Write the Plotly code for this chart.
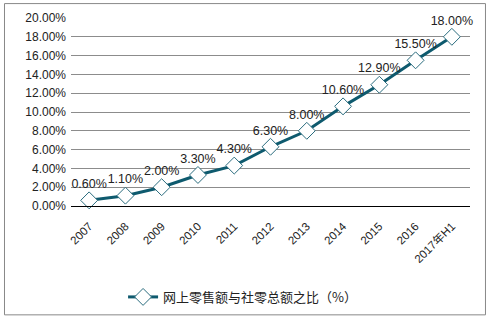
import plotly.graph_objects as go

categories = ["2007", "2008", "2009", "2010", "2011", "2012", "2013", "2014", "2015", "2016", "2017年H1"]
values = [0.006, 0.011, 0.020, 0.033, 0.043, 0.063, 0.080, 0.106, 0.129, 0.155, 0.180]
labels = ["0.60%", "1.10%", "2.00%", "3.30%", "4.30%", "6.30%", "8.00%", "10.60%", "12.90%", "15.50%", "18.00%"]
series_name = "网上零售额与社零总额之比（%）"

font_family = "Liberation Sans, Arial, Noto Sans CJK SC, sans-serif"

fig = go.Figure()
fig.add_trace(go.Scatter(
    x=categories, y=values, mode="lines+markers+text",
    name=series_name,
    text=labels, textposition="top center",
    textfont=dict(size=12.5, color="#222222", family=font_family),
    line=dict(color="#0e5a6e", width=3),
    marker=dict(symbol="diamond", size=13, color="white",
                line=dict(color="#2a6c7e", width=1)),
    cliponaxis=False,
))

fig.update_layout(
    width=493, height=322,
    margin=dict(l=71, r=23, t=18, b=115),
    paper_bgcolor="white", plot_bgcolor="white",
    font=dict(family=font_family, color="#222222"),
    showlegend=True,
    legend=dict(orientation="h", x=0.43, xanchor="center", y=-0.476, yanchor="middle",
                font=dict(size=13, color="#222222", family="Noto Sans CJK SC, sans-serif"),
                bgcolor="rgba(0,0,0,0)"),
    xaxis=dict(type="category", tickangle=-45, tickfont=dict(size=11.5),
               showgrid=False, showline=True, linecolor="#000000", linewidth=1,
               ticks="", range=[-0.5, 10.5], ticklabelstandoff=8),
    yaxis=dict(range=[0, 0.2], dtick=0.02, tickformat=".2%",
               tickfont=dict(size=12),
               showgrid=True, gridcolor="#8c8c8c", gridwidth=1,
               zeroline=True, zerolinecolor="#000000", zerolinewidth=1,
               showline=False, ticks="", ticklabelstandoff=4),
    shapes=[dict(type="rect", xref="paper", yref="paper",
                 x0=-0.1667, x1=1.0388, y0=-0.579, y1=1.0767,
                 line=dict(color="#888888", width=1), fillcolor="rgba(0,0,0,0)",
                 layer="below")],
)

fig.write_html("out.html")
